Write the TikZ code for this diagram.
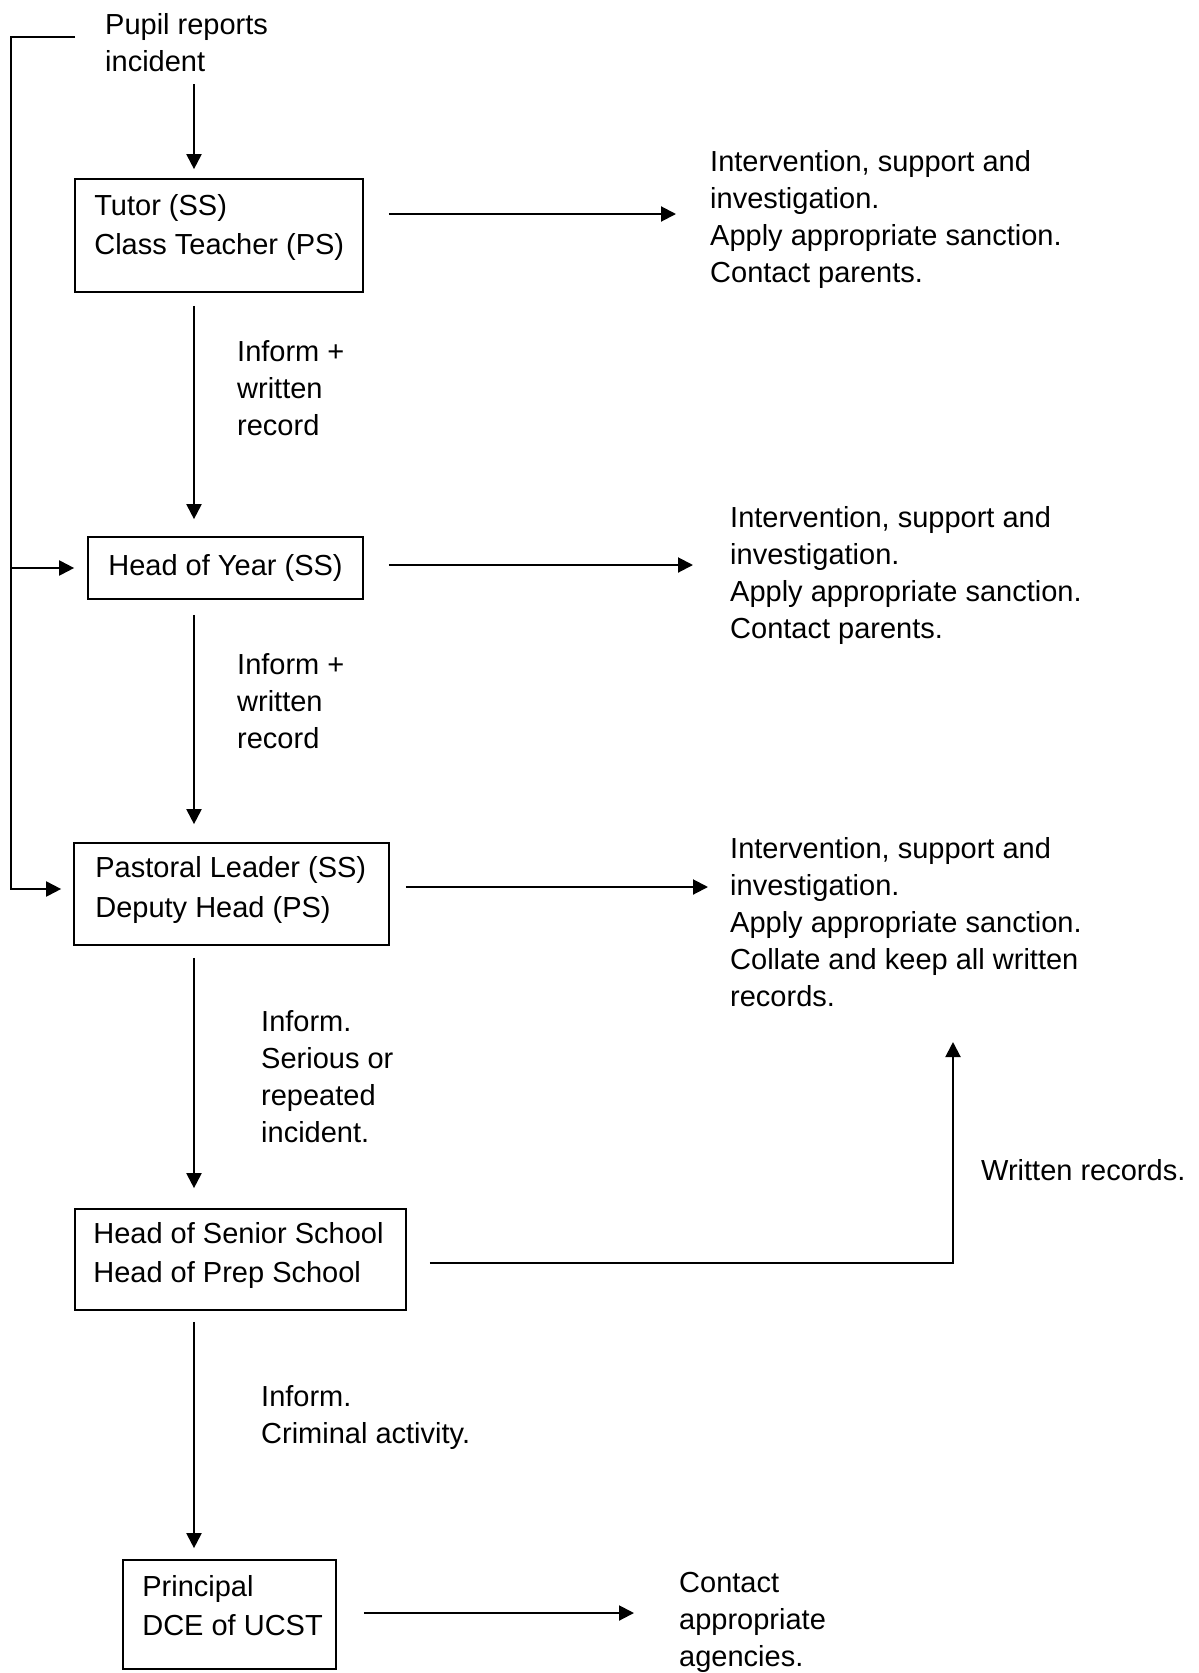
\documentclass[tikz,border=0pt]{standalone}
\usepackage{fontspec}
\setmainfont{Liberation Sans}
\usetikzlibrary{arrows.meta,calc}
\begin{document}
\begin{tikzpicture}[x=1pt,y=-1pt,
  every node/.style={font=\fontsize{29}{37}\selectfont},
  txt/.style={inner sep=0pt, anchor=west, align=left},
  btxt/.style={txt, font=\fontsize{29}{39.5}\selectfont},
  box/.style={draw, line width=1.7pt, inner sep=0pt},
  arr/.style={line width=2pt, -{Triangle[length=15pt,width=15pt]}}]
\useasboundingbox (0,0) rectangle (1199,1673);
\coordinate (col) at (194,0);
\coordinate (railtop) at (11,37);
\coordinate (recin) at (953,1042);

\node[txt] (pupil) at (105,43) {Pupil reports\\incident};

\node[box, minimum width=288pt, minimum height=113pt] (tutor) at (219,235.5) {};
\node[btxt] (tutort) at ($(tutor.west)+(20,-8)$) {Tutor (SS)\\Class Teacher (PS)};
\node[box, minimum width=275pt, minimum height=62pt] (hoy) at (225.5,568) {Head of Year (SS)};
\node[box, minimum width=315pt, minimum height=102pt] (pl) at (231.5,894) {};
\node[btxt] (plt) at ($(pl.west)+(22,-4)$) {Pastoral Leader (SS)\\Deputy Head (PS)};
\node[box, minimum width=331pt, minimum height=101pt] (hss) at (240.5,1259.5) {};
\node[btxt] (hsst) at ($(hss.west)+(19,-4)$) {Head of Senior School\\Head of Prep School};
\node[box, minimum width=213pt, minimum height=109pt] (prin) at (229.5,1614.5) {};
\node[btxt] (print) at ($(prin.west)+(20,-9)$) {Principal\\DCE of UCST};

\node[txt] (r1) at (710,219) {Intervention, support and\\investigation.\\Apply appropriate sanction.\\Contact parents.};
\node[txt] (r2) at (730,575) {Intervention, support and\\investigation.\\Apply appropriate sanction.\\Contact parents.};
\node[txt] (r3) at (730,922.5) {Intervention, support and\\investigation.\\Apply appropriate sanction.\\Collate and keep all written\\records.};
\node[txt] (r4) at (679,1622) {Contact\\appropriate\\agencies.};
\node[txt] (wr) at (981,1170) {Written records.};

\node[txt] (l1) at (237,388) {Inform +\\written\\record};
\node[txt] (l2) at (237,701) {Inform +\\written\\record};
\node[txt] (l3) at (261,1077) {Inform.\\Serious or\\repeated\\incident.};
\node[txt] (l4) at (261,1417) {Inform.\\Criminal activity.};

% vertical arrows
\draw[arr] ($(tutor.north -| col)+(0,-94)$) -- ($(tutor.north -| col)+(0,-9)$);
\draw[arr, shorten <=13pt, shorten >=17pt] (tutor.south -| col) -- (hoy.north -| col);
\draw[arr, shorten <=15pt, shorten >=18pt] (hoy.south -| col) -- (pl.north -| col);
\draw[arr, shorten <=12pt, shorten >=20pt] (pl.south -| col) -- (hss.north -| col);
\draw[arr, shorten <=11pt, shorten >=11pt] (hss.south -| col) -- (prin.north -| col);

% horizontal arrows
\draw[arr] ($(tutor.east)+(25,-21.5)$) -- ($(r1.west |- tutor.east)+(-34,-21.5)$);
\draw[arr] ($(hoy.east)+(25,-3)$) -- ($(r2.west |- hoy.east)+(-37,-3)$);
\draw[arr] ($(pl.east)+(16,-7)$) -- ($(r3.west |- pl.east)+(-22,-7)$);
\draw[arr] ($(prin.east)+(27,-1.5)$) -- ($(r4.west |- prin.east)+(-45,-1.5)$);
\draw[arr] ($(hss.east)+(23,3.5)$) -| (recin);

% left rail
\draw[arr] ($(pupil.west)+(-30,-6)$) -- (railtop) |- ($(pl.west)+(-12,-5)$);
\draw[arr] (railtop |- hoy.west) -- ($(hoy.west)+(-13,0)$);
\end{tikzpicture}
\end{document}
